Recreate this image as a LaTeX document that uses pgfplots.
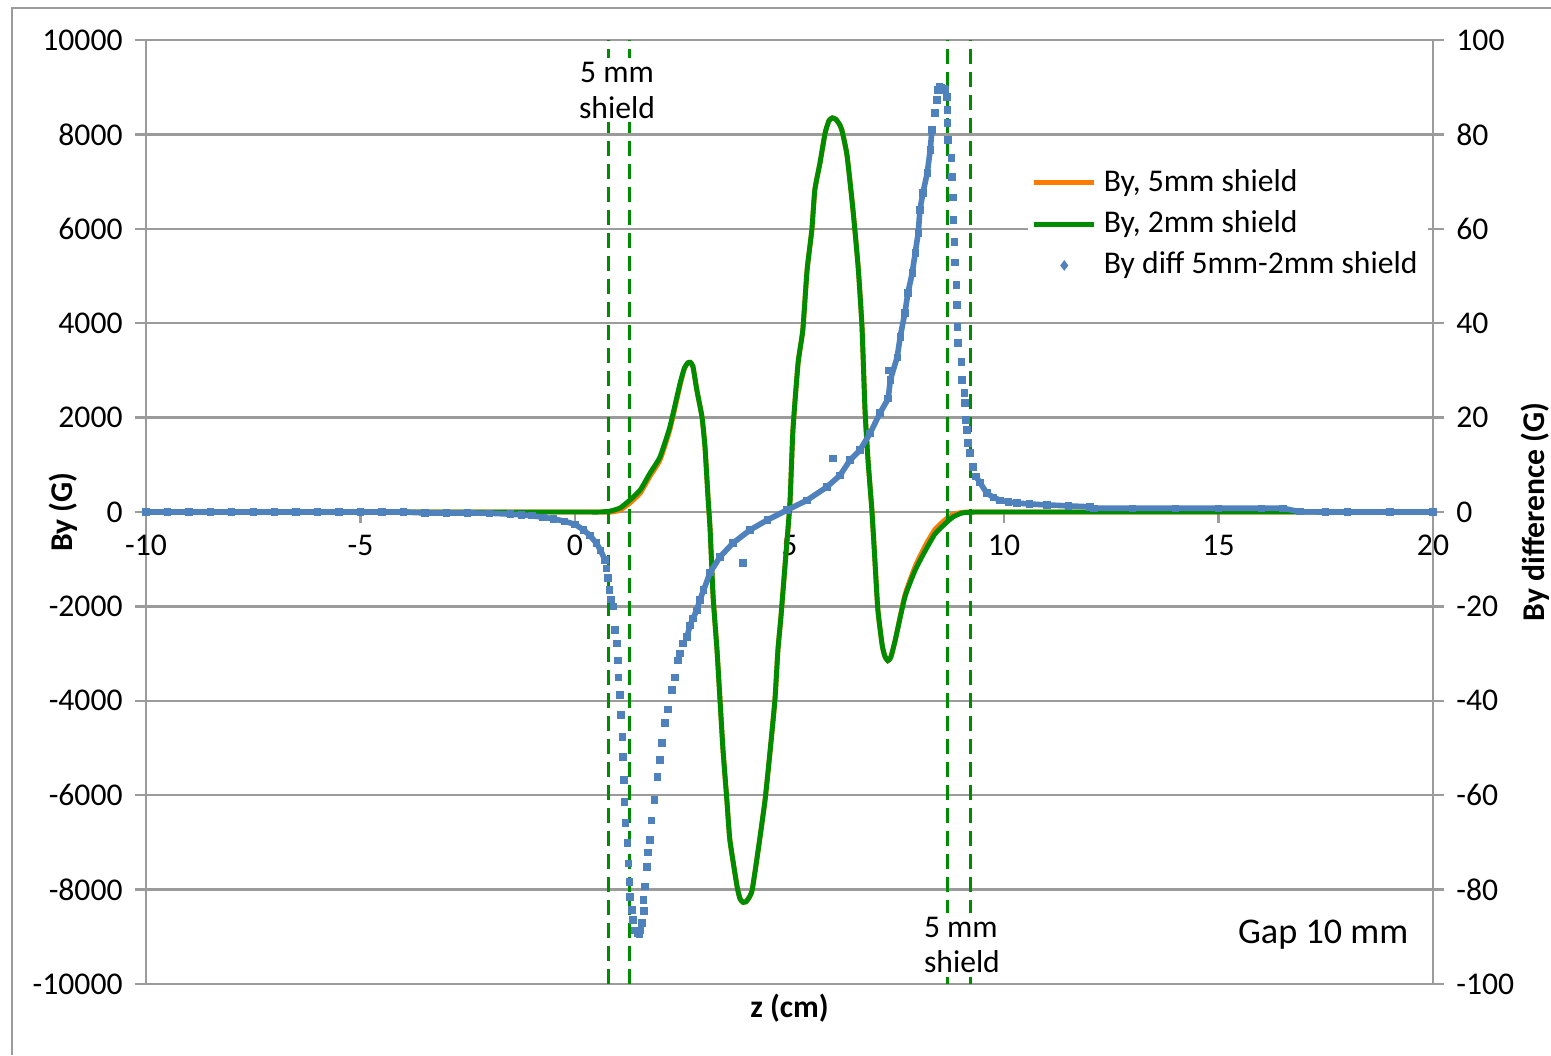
\documentclass[border=0pt]{standalone}
\usepackage{fontspec}
\setmainfont{Carlito}
\usepackage{pgfplots}
\usepackage{pgfplotstable}
\pgfplotsset{compat=1.18}
\definecolor{cgreen}{RGB}{0,140,0}
\definecolor{corange}{RGB}{255,122,0}
\definecolor{cblue}{RGB}{79,129,189}
\definecolor{cgrid}{RGB}{155,155,155}

\pgfplotstableread{
x y
-10 0
-5 0
-1 0
0 0
0.3 0
0.58 0
0.82 20
1.05 85
1.28 254
1.52 466
1.75 826
1.98 1165
2.21 1801
2.45 2733
2.55 3050
2.63 3160
2.69 3170
2.75 3080
2.84 2585
2.96 2013
3.03 1377
3.10 318
3.15 -381
3.22 -1801
3.31 -2924
3.38 -3983
3.45 -5042
3.54 -6102
3.61 -6949
3.78 -7945
3.85 -8200
3.92 -8270
3.98 -8260
4.05 -8180
4.13 -8008
4.27 -7161
4.43 -6102
4.55 -5042
4.66 -3983
4.73 -2924
4.80 -2225
4.90 -1080
5.01 191
5.08 1737
5.20 3157
5.31 3856
5.41 5127
5.52 5974
5.59 6822
5.71 7394
5.83 8030
5.92 8290
6.00 8350
6.08 8320
6.16 8220
6.22 8093
6.34 7563
6.48 6398
6.60 5191
6.69 3919
6.76 2161
6.83 1102
6.92 42
6.99 -1017
7.06 -2076
7.16 -2818
7.22 -3050
7.29 -3150
7.36 -3080
7.46 -2733
7.69 -1801
7.93 -1229
8.16 -826
8.39 -466
8.62 -254
8.81 -106
9.02 -21
9.32 0
9.6 0
10 0
11 0
15 0
20 0
}\greendata

\pgfplotstableread{
x y
-10 0
-5 0
-1 0
0 0
0.3 0
0.60 0
0.85 0
1.05 40
1.28 190
1.52 400
1.75 760
1.98 1100
2.21 1740
2.45 2690
2.55 3040
2.63 3160
2.69 3170
2.75 3080
2.84 2585
2.96 2013
3.03 1377
3.10 318
3.15 -381
3.22 -1801
3.31 -2924
3.38 -3983
3.45 -5042
3.54 -6102
3.61 -6949
3.78 -7945
3.85 -8200
3.92 -8270
3.98 -8260
4.05 -8180
4.13 -8008
4.27 -7161
4.43 -6102
4.55 -5042
4.66 -3983
4.73 -2924
4.80 -2225
4.90 -1080
5.01 191
5.08 1737
5.20 3157
5.31 3856
5.41 5127
5.52 5974
5.59 6822
5.71 7394
5.83 8030
5.92 8290
6.00 8350
6.08 8320
6.16 8220
6.22 8093
6.34 7563
6.48 6398
6.60 5191
6.69 3919
6.76 2161
6.83 1102
6.92 42
6.99 -1017
7.06 -2076
7.16 -2818
7.22 -3050
7.29 -3150
7.36 -3080
7.46 -2733
7.69 -1760
7.93 -1150
8.16 -720
8.39 -370
8.62 -170
8.81 -50
9.02 -8
9.2 0
9.5 0
10 0
11 0
15 0
20 0
}\orangedata

\pgfplotstableread{
x y
-10 0
-9.5 0
-9 0
-8.5 0
-8 0
-7.5 0
-7 0
-6.5 0
-6 0
-5.5 0
-5 0
-4.5 0
-4 0
-3.5 -0.2
-3 -0.2
-2.5 -0.2
-2 -0.25
-1.5 -0.45
-1.25 -0.6
-1.0 -0.8
-0.75 -1.1
-0.5 -1.45
-0.25 -1.95
0 -2.6
0.2 -3.8
0.35 -5.0
0.5 -6.6
0.6 -8.2
0.7 -10.2
0.74 -12
0.77 -14
0.80 -16.5
0.84 -18.5
0.89 -20
0.93 -25
0.98 -27.8
1.00 -31.4
1.01 -35.0
1.05 -38.8
1.07 -43.0
1.11 -47.7
1.12 -51.9
1.14 -56.8
1.16 -61.4
1.18 -65.9
1.23 -70.1
1.24 -74.4
1.27 -78.4
1.28 -81.6
1.33 -84.3
1.35 -86.4
1.40 -88.6
1.45 -89.2
1.50 -89.5
1.52 -88.6
1.56 -87.1
1.59 -82.2
1.61 -84.5
1.63 -79.4
1.68 -75.2
1.70 -72.2
1.75 -69.5
1.79 -65.3
1.86 -61.0
1.93 -56.1
1.98 -52.5
2.03 -48.9
2.10 -44.7
2.17 -41.9
2.26 -37.7
2.33 -35.0
2.40 -31.4
2.45 -30.0
2.52 -27.8
2.61 -26.5
2.68 -24.0
2.75 -22.5
2.84 -20.8
2.91 -18.6
3.00 -16.5
3.15 -12.8
3.38 -9.5
3.68 -6.6
4.08 -3.8
4.48 -1.7
4.94 0.4
5.41 2.5
5.87 5.3
6.18 7.8
6.41 11.0
6.64 13.1
6.88 16.7
7.11 21.0
7.30 24.0
7.35 28.0
7.51 32.8
7.58 37.1
7.69 42.2
7.76 46.4
7.86 50.6
7.93 54.9
8.00 59.1
8.04 64.0
8.11 67.6
8.21 71.8
8.28 76.7
8.32 80.9
8.39 84.5
8.44 87.3
8.46 89.4
8.50 90.2
8.55 90.0
8.60 89.6
8.62 89.4
8.67 87.9
8.68 85.2
8.68 82.4
8.69 78.8
8.78 75.0
8.79 71.0
8.81 66.7
8.82 61.9
8.85 57.2
8.86 52.8
8.89 48.1
8.90 43.9
8.92 39.2
8.93 35.8
9.01 31.8
9.02 28.0
9.08 25.2
9.09 23.1
9.11 19.5
9.14 17.4
9.16 14.6
9.21 12.5
9.28 9.5
9.35 7.5
9.44 6.2
9.60 4.0
9.75 3.1
9.91 2.5
10.1 2.1
10.3 1.9
10.6 1.7
11.0 1.5
11.5 1.3
12.0 1.1
12.1 0.8
13 0.8
14 0.8
15 0.8
16 0.8
16.5 0.8
16.9 0.05
17.5 0
18 0
19 0
20 0
}\diffdata

\pgfplotstableread{
x y
3.92 -10.8
6.01 11.4
7.32 30.0
}\diffout

\begin{document}
\begin{tikzpicture}
\useasboundingbox (0,0) rectangle (155.1mm,105.5mm);
\draw[cgrid, line width=0.25mm] (1.2mm,0) -- (1.2mm,104.7mm) -- (155.1mm,104.7mm);
\begin{axis}[
  at={(14.6mm,7.1mm)}, anchor=south west,
  scale only axis, width=128.7mm, height=94.4mm,
  xmin=-10, xmax=20, ymin=-10000, ymax=10000,
  axis x line=middle, axis y line=left,
  axis line style={-, cgrid, line width=0.25mm},
  xtick={-10,-5,0,5,10,15,20},
  ytick={-10000,-8000,...,10000},
  scaled y ticks=false, scaled x ticks=false,
  ymajorgrids, grid style={cgrid, line width=0.25mm},
  tick style={cgrid, line width=0.25mm},
  major tick length=1.1mm,
  tick align=outside,
  hide obscured x ticks=false,
  tick label style={font=\fontsize{9}{11}\selectfont},
  /pgf/number format/assume math mode=true,
  /pgf/number format/set thousands separator={},
  xlabel={\textbf{z (cm)}},
  ylabel={\textbf{By (G)}},
  label style={font=\fontsize{9}{11}\selectfont},
  xlabel style={at={(axis description cs:0.5,-0.0254)}, anchor=center},
  ylabel style={at={(axis description cs:-0.0645,0.5)}, anchor=center},
  legend style={at={(axis cs:10.55,7500)}, anchor=north west, draw=none, fill=white,
    font=\fontsize{9}{11}\selectfont, inner sep=1pt, row sep=0pt},
  legend cell align=left,
]
\addplot[corange, line width=1.4pt, smooth, tension=0.3] table[x=x,y=y] {\orangedata};
\addlegendentry{By, 5mm shield}
\addplot[cgreen, line width=1.4pt, smooth, tension=0.3] table[x=x,y=y] {\greendata};
\addlegendentry{By, 2mm shield}
\addlegendimage{only marks, mark=diamond*, mark size=1.2pt, color=cblue}
\addlegendentry{By diff 5mm-2mm shield}
\addplot[forget plot, cgreen, line width=0.85pt, dash pattern=on 1.5mm off 0.8mm] coordinates {(0.77,-10000) (0.77,10000)};
\addplot[forget plot, cgreen, line width=0.85pt, dash pattern=on 1.5mm off 0.8mm] coordinates {(1.26,-10000) (1.26,10000)};
\addplot[forget plot, cgreen, line width=0.85pt, dash pattern=on 1.5mm off 0.8mm] coordinates {(8.69,-10000) (8.69,10000)};
\addplot[forget plot, cgreen, line width=0.85pt, dash pattern=on 1.5mm off 0.8mm] coordinates {(9.21,-10000) (9.21,10000)};
\node[fill=white, align=center, inner sep=1pt, font=\fontsize{9}{10.2}\selectfont] at (axis cs:0.98,8940) {5 mm\\shield};
\node[fill=white, align=left, inner sep=1pt, font=\fontsize{9}{10.2}\selectfont] at (axis cs:9.02,-9174) {5 mm\\shield};
\node[font=\fontsize{10.3}{12}\selectfont] at (axis cs:17.44,-8962) {Gap 10 mm};
\end{axis}
\begin{axis}[
  at={(14.6mm,7.1mm)}, anchor=south west,
  scale only axis, width=128.7mm, height=94.4mm,
  xmin=-10, xmax=20, ymin=-100, ymax=100,
  axis x line=none, axis y line=right,
  axis line style={-, cgrid, line width=0.25mm},
  ytick={-100,-80,...,100},
  scaled y ticks=false,
  tick style={cgrid, line width=0.25mm},
  major tick length=1.1mm,
  tick align=outside,
  tick label style={font=\fontsize{9}{11}\selectfont},
  /pgf/number format/assume math mode=true,
  ylabel={\textbf{By difference (G)}},
  label style={font=\fontsize{9}{11}\selectfont},
  ylabel style={at={(axis description cs:1.0793,0.5)}, anchor=center},
]
\addplot[forget plot, cblue, line width=1.6pt, restrict x to domain=-10:0.72] table[x=x,y=y] {\diffdata};
\addplot[forget plot, cblue, line width=1.6pt, restrict x to domain=2.6:8.33] table[x=x,y=y] {\diffdata};
\addplot[forget plot, cblue, line width=1.6pt, restrict x to domain=9.34:20] table[x=x,y=y] {\diffdata};
\addplot[only marks, mark=square*, mark size=0.85pt, cblue, mark options={draw=none, fill=cblue}] table[x=x,y=y] {\diffdata};
\addplot[forget plot, only marks, mark=square*, mark size=0.85pt, cblue, mark options={draw=none, fill=cblue}] table[x=x,y=y] {\diffout};
\end{axis}
\end{tikzpicture}
\end{document}
